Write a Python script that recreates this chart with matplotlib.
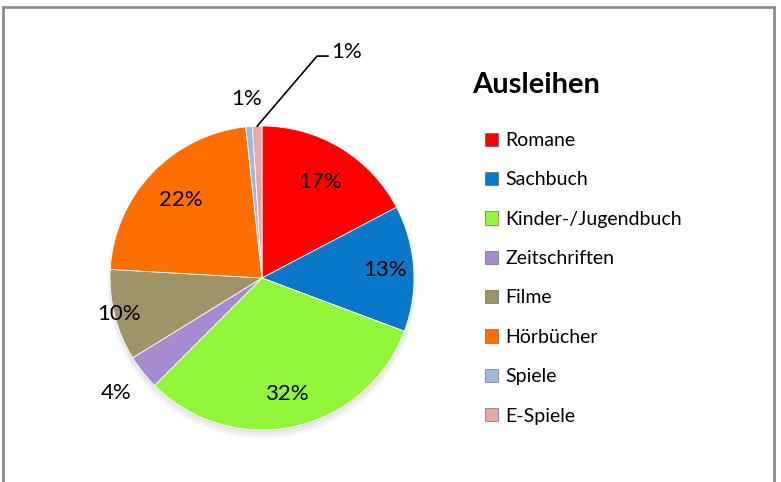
import matplotlib.pyplot as plt
from matplotlib.patches import Rectangle, Patch
import numpy as np

plt.rcParams['font.family'] = ['Lato', 'DejaVu Sans']

categories = ['Romane', 'Sachbuch', 'Kinder-/Jugendbuch', 'Zeitschriften',
              'Filme', 'Hörbücher', 'Spiele', 'E-Spiele']
shares = [17.3, 13.4, 31.8, 3.7, 9.7, 22.4, 0.7, 1.0]
colors = ['#ff0000', '#0a78c8', '#92f53a', '#a68bd0',
          '#9e9468', '#ff6e00', '#9db8e3', '#e8a6a6']
title = 'Ausleihen'

W, H = 781, 482
fig = plt.figure(figsize=(W / 100, H / 100), dpi=100)
fig.patch.set_facecolor('white')

# chart area border
fig.add_artist(Rectangle((3 / W, -0.05), (774 - 3) / W, 1.05 - 7 / H,
                         transform=fig.transFigure, fill=False,
                         edgecolor='#8c8c8c', linewidth=2))

cx, cy, R = 262, 278, 152
ax = fig.add_axes([(cx - R) / W, (H - cy - R) / H, 2 * R / W, 2 * R / H])

# soft shadow under pie
for k in range(3):
    sh = plt.Circle((0.0, -0.015 - 0.012 * k), 1.0 + 0.008 * k, color='k',
                    alpha=0.04, zorder=0, linewidth=0, clip_on=False)
    ax.add_patch(sh)

wedges, _ = ax.pie(shares, colors=colors, startangle=90, counterclock=False,
                   radius=1.0, wedgeprops=dict(edgecolor='#ffffff',
                                               linewidth=0.6))
for w in wedges:
    w.set_zorder(2)
ax.set_xlim(-1, 1)
ax.set_ylim(-1, 1)
ax.set_aspect('equal')
ax.axis('off')

label_r = [0.74, 0.81, 0.78, 1.22, 0.97, 0.74, 1.18, None]
for w, val, r in zip(wedges, shares, label_r):
    ang = np.deg2rad((w.theta1 + w.theta2) / 2)
    txt = f'{val:.0f}%'
    if r is None:
        sx, sy = np.cos(ang), np.sin(ang)
        ax.plot([sx, 0.362, 0.434], [sy, 1.46, 1.46], color='black',
                linewidth=1.2, clip_on=False, zorder=3)
        ax.text(0.454, 1.49, txt, ha='left', va='center', fontsize=16,
                zorder=3)
    else:
        ax.text(r * np.cos(ang), r * np.sin(ang), txt, ha='center',
                va='center', fontsize=16, zorder=3)

fig.text(472 / W, 1 - 85 / H, title, fontsize=21, fontweight='bold',
         ha='left', va='center')

handles = [Patch(facecolor=c, edgecolor='#555555', linewidth=0.4)
           for c in colors]
fig.legend(handles, categories, loc='upper left',
           bbox_to_anchor=(485 / W, 1 - 132 / H), frameon=False,
           fontsize=14, handlelength=0.67, handleheight=0.67,
           handletextpad=0.38, labelspacing=1.15, borderpad=0,
           borderaxespad=0)

fig.savefig('out.png', dpi=100)
